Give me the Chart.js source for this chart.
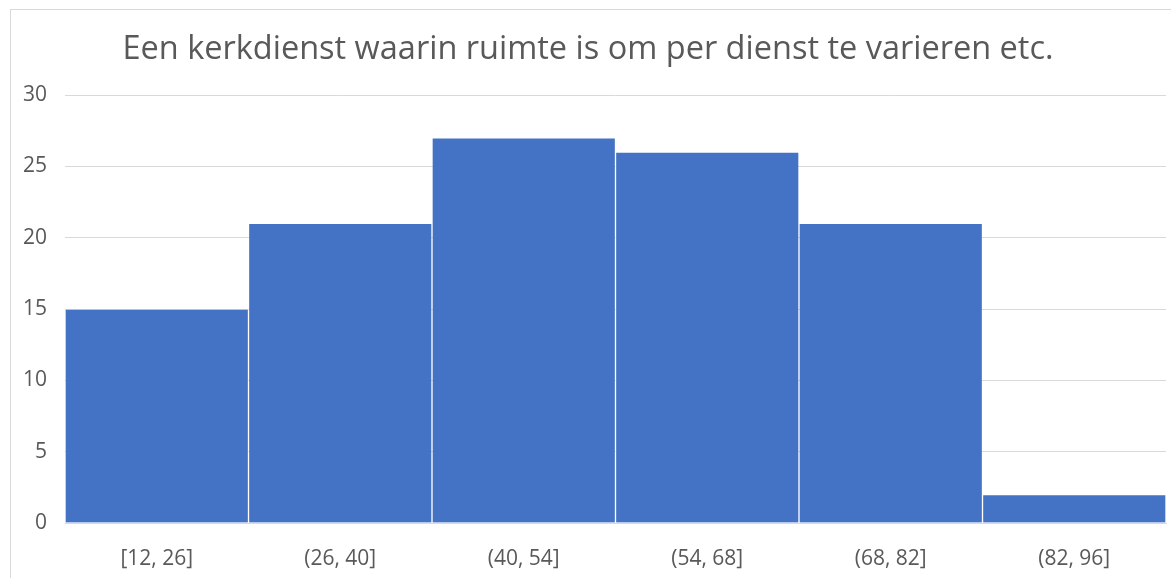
<!DOCTYPE html>
<html lang="nl">
<head>
    <meta charset="UTF-8">
    <title>Histogram</title>
    <script src="https://cdn.jsdelivr.net/npm/chart.js@4.4.1/dist/chart.umd.min.js"></script>
    <style>
        html, body { margin: 0; padding: 0; background: #ffffff; overflow: hidden; }
        canvas { display: block; }
    </style>
</head>
<body>
<canvas id="canvas" width="1171" height="578"></canvas>
<script>
    const titleText = 'Een kerkdienst waarin ruimte is om per dienst te varieren etc.'
    const bins = ['[12, 26]', '(26, 40]', '(40, 54]', '(54, 68]', '(68, 82]', '(82, 96]']
    const counts = [15, 21, 27, 26, 21, 2]
    const yTicks = [0, 5, 10, 15, 20, 25, 30]

    const textColor = '#595959'
    const fontFamily = '"Open Sans", "Liberation Sans", sans-serif'

    // light frame round the whole chart, like the spreadsheet chart box
    const framePlugin = {
        id: 'frame',
        beforeDraw: (chart) => {
            const ctx = chart.ctx
            ctx.save()
            ctx.fillStyle = '#ffffff'
            ctx.fillRect(0, 0, chart.width, chart.height)
            ctx.strokeStyle = '#D9D9D9'
            ctx.lineWidth = 1
            ctx.strokeRect(10.5, 9.5, chart.width + 20, chart.height + 20)
            ctx.restore()
        }
    }

    new Chart(document.getElementById('canvas').getContext('2d'), {
        type: 'bar',
        data: {
            labels: bins,
            datasets: [{
                data: counts,
                backgroundColor: '#4472C4',
                borderColor: 'rgba(255,255,255,0.15)',
                borderWidth: 1,
                barPercentage: 1,
                categoryPercentage: 1
            }]
        },
        options: {
            responsive: false,
            animation: false,
            layout: { padding: { top: 10, right: 5, bottom: 0, left: 10 } },
            plugins: {
                legend: { display: false },
                tooltip: { enabled: false },
                title: {
                    display: true,
                    text: titleText,
                    color: textColor,
                    font: { family: fontFamily, size: 32.5, weight: 'normal' },
                    padding: { top: 20, bottom: 26 }
                }
            },
            scales: {
                x: {
                    afterFit: (scale) => { scale.height = 55 },
                    grid: { display: false, drawTicks: false },
                    border: { display: true, color: '#D9D9D9' },
                    ticks: {
                        color: textColor,
                        font: { family: fontFamily, size: 21 },
                        padding: 23,
                        maxRotation: 0
                    }
                },
                y: {
                    min: 0,
                    max: 30,
                    afterFit: (scale) => { scale.width = 55 },
                    afterBuildTicks: (scale) => {
                        scale.ticks = yTicks.map(v => ({ value: v }))
                    },
                    grid: { color: '#D9D9D9', drawTicks: false },
                    border: { display: false },
                    ticks: {
                        color: textColor,
                        font: { family: fontFamily, size: 21 },
                        padding: 18
                    }
                }
            }
        },
        plugins: [framePlugin]
    })
</script>
</body>
</html>
